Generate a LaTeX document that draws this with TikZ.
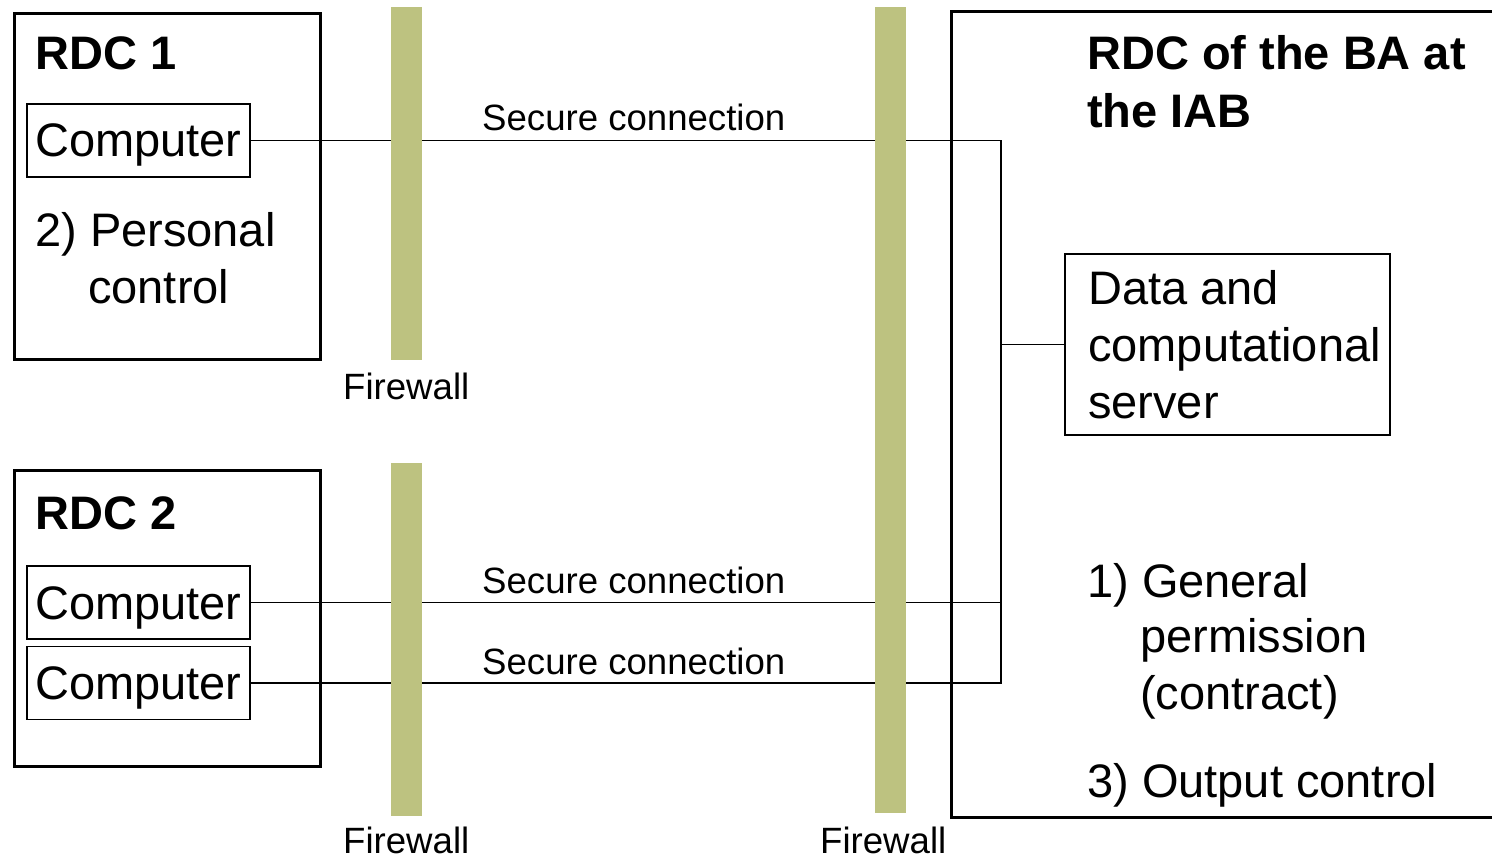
\documentclass[tikz,border=0pt]{standalone}
\usepackage{fontspec}
\setmainfont{Liberation Sans}
\definecolor{fw}{RGB}{189,194,128}
\begin{document}
\begin{tikzpicture}[x=1pt,y=-1pt,
  bigbox/.style={draw, line width=3pt, inner sep=0pt, anchor=north west},
  comp/.style={draw, line width=1.3pt, minimum width=223pt, minimum height=73pt, inner sep=0pt,
    font=\fontsize{47}{56}\selectfont, text height=34pt, text depth=1pt},
  wire/.style={line width=1.5pt},
  fwbar/.style={fill=fw, draw=none, inner sep=0pt, anchor=north west, minimum width=31pt},
  lbl/.style={anchor=base west, inner sep=0pt, font=\fontsize{47}{56}\selectfont},
  ttl/.style={anchor=base west, inner sep=0pt, font=\fontsize{47}{56}\selectfont\bfseries},
  small/.style={anchor=base west, inner sep=0pt, font=\fontsize{36.6}{43}\selectfont}]
\useasboundingbox (0,0) rectangle (1492,861);

% containers
\node[bigbox, minimum width=306pt, minimum height=346pt] (rdc1) at (13,12) {};
\node[bigbox, minimum width=306pt, minimum height=296pt] (rdc2) at (13,469) {};
\draw[line width=3pt] (1493,12) -- (951,12) -- (951,817) -- (1493,817);

% titles and notes
\node[ttl] (t1) at (35,70) {RDC 1};
\node[ttl] (t2) at (35,529) {RDC 2};
\node[ttl] (t3a) at (1087,70) {RDC of the BA at};
\node[ttl] (t3b) at (1087,128) {the IAB};
\node[lbl] (n2a) at (35,247) {2) Personal};
\node[lbl] (n2b) at (88,303) {control};
\node[lbl] (n1a) at (1087,597) {1) General};
\node[lbl] (n1b) at (1140,652) {permission};
\node[lbl] (n1c) at (1140,709) {(contract)};
\node[lbl] (n3) at (1087,797) {3) Output control};

% computers and server
\node[comp] (c1) at (138.5,140.5) {Computer};
\node[comp] (c2) at (138.5,602.5) {Computer};
\node[comp] (c3) at (138.5,683) {Computer};
\node[draw, line width=1.3pt, minimum width=325pt, minimum height=181pt, inner sep=0pt,
  align=left, font=\fontsize{47}{57}\selectfont] (srv) at (1227.5,344.5)
  {\hspace*{14pt}Data and\\\hspace*{14pt}computational\\\hspace*{14pt}server};

% wires
\coordinate (bus) at (1001,400);
\draw[wire] (c1.east) -| (bus) |- (c3.east);
\draw[wire] (c2.east) -- (c2.east -| bus);
\draw[wire] (srv.west) -- (srv.west -| bus);

% connection labels
\node[small] (s1) at (482,131) {Secure connection};
\node[small] (s2) at (482,593) {Secure connection};
\node[small] (s3) at (482,674) {Secure connection};

% firewalls
\node[fwbar, minimum height=353pt] (fw1) at (391,7) {};
\node[fwbar, minimum height=353pt] (fw2) at (391,463) {};
\node[fwbar, minimum height=806pt] (fw3) at (875,7) {};
\node[small] (f1) at (343,399) {Firewall};
\node[small] (f2) at (343,853) {Firewall};
\node[small] (f3) at (820,853) {Firewall};
\end{tikzpicture}
\end{document}
